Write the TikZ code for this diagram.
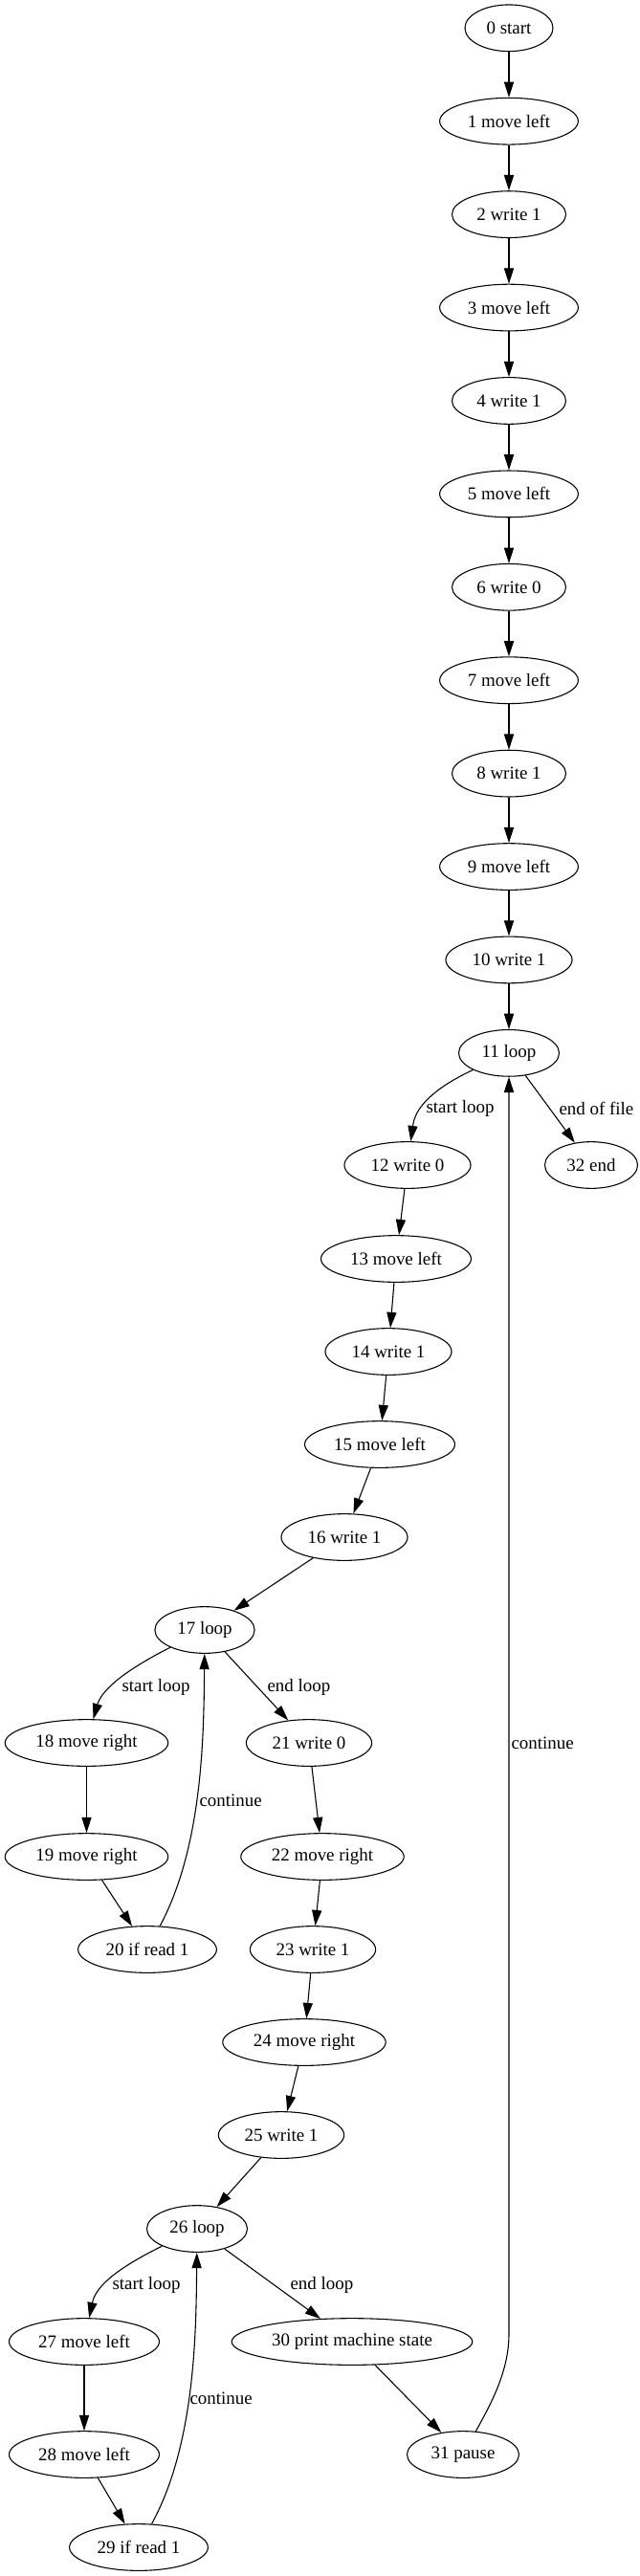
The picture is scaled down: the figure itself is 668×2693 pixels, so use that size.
\documentclass[tikz,border=0pt]{standalone}
\usepackage{fontspec}
\setmainfont{Liberation Serif}
\usetikzlibrary{arrows.meta}
\usetikzlibrary{positioning}
\usetikzlibrary{shapes.geometric}

\tikzset{
  stmt/.style={draw,ellipse,minimum height=36pt,inner sep=1pt,font=\fontsize{14pt}{16pt}\selectfont},
  lbl/.style={inner sep=0pt,anchor=west,font=\fontsize{14pt}{16pt}\selectfont},
  flow/.style={-{Triangle[length=12pt,width=7.5pt]}}
}

\begin{document}
\begin{tikzpicture}[x=0.7391pt,y=-0.7391pt,node distance=72pt,line width=0.8pt]
  \useasboundingbox (0,0) rectangle (668,2693);
  \node[stmt,minimum width=68pt] (0) at (532,29.3) {0 start};
  \node[stmt,minimum width=107pt,below of=0] (1) {1 move left};
  \node[stmt,minimum width=88pt,below of=1] (2) {2 write 1};
  \node[stmt,minimum width=107pt,below of=2] (3) {3 move left};
  \node[stmt,minimum width=88pt,below of=3] (4) {4 write 1};
  \node[stmt,minimum width=107pt,below of=4] (5) {5 move left};
  \node[stmt,minimum width=88pt,below of=5] (6) {6 write 0};
  \node[stmt,minimum width=107pt,below of=6] (7) {7 move left};
  \node[stmt,minimum width=88pt,below of=7] (8) {8 write 1};
  \node[stmt,minimum width=107pt,below of=8] (9) {9 move left};
  \node[stmt,minimum width=97.6pt,below of=9] (10) {10 write 1};
  \node[stmt,minimum width=77.6pt,below of=10] (11) {11 loop};
  \node[stmt,minimum width=97.6pt] (12) at (426,1218) {12 write 0};
  \node[stmt,minimum width=71.7pt] (32) at (618,1218) {32 end};
  \node[stmt,minimum width=116pt] (13) at (414,1316) {13 move left};
  \node[stmt,minimum width=97.6pt] (14) at (406,1413) {14 write 1};
  \node[stmt,minimum width=116pt] (15) at (397,1510) {15 move left};
  \node[stmt,minimum width=97.6pt] (16) at (360,1607) {16 write 1};
  \node[stmt,minimum width=77pt] (17) at (214,1704) {17 loop};
  \node[stmt,minimum width=126pt] (18) at (90.5,1822) {18 move right};
  \node[stmt,minimum width=97pt] (21) at (323,1822) {21 write 0};
  \node[stmt,minimum width=126pt] (19) at (90.5,1941) {19 move right};
  \node[stmt,minimum width=126pt] (22) at (337,1941) {22 move right};
  \node[stmt,minimum width=107pt] (20) at (154,2038) {20 if read 1};
  \node[stmt,minimum width=97pt] (23) at (327,2038) {23 write 1};
  \node[stmt,minimum width=126pt] (24) at (318,2135) {24 move right};
  \node[stmt,minimum width=97pt] (25) at (294,2232) {25 write 1};
  \node[stmt,minimum width=77.6pt] (26) at (206,2330) {26 loop};
  \node[stmt,minimum width=116pt] (27) at (88,2448) {27 move left};
  \node[stmt,minimum width=186pt] (30) at (368,2448) {30 print machine state};
  \node[stmt,minimum width=116pt] (28) at (88,2566) {28 move left};
  \node[stmt,minimum width=86.5pt] (31) at (484,2566) {31 pause};
  \node[stmt,minimum width=107pt] (29) at (145,2663) {29 if read 1};
  \coordinate (c31) at (532,2440);
  % edge labels
  \node[lbl] (l11s) at (445,1159) {start loop};
  \node[lbl] (l11e) at (584,1159) {end of file};
  \node[lbl] (l17s) at (127,1764) {start loop};
  \node[lbl] (l17e) at (279,1764) {end loop};
  \node[lbl] (l20c) at (208,1882) {continue};
  \node[lbl] (l31c) at (534,1822) {continue};
  \node[lbl] (l26s) at (117,2389) {start loop};
  \node[lbl] (l26e) at (303,2389) {end loop};
  \node[lbl] (l29c) at (198,2507) {continue};
  \draw[flow](0)--(1);
  \draw[flow](1)--(2);
  \draw[flow](2)--(3);
  \draw[flow](3)--(4);
  \draw[flow](4)--(5);
  \draw[flow](5)--(6);
  \draw[flow](6)--(7);
  \draw[flow](7)--(8);
  \draw[flow](8)--(9);
  \draw[flow](9)--(10);
  \draw[flow](10)--(11);
  \draw[flow](11) .. controls (440,1144) and (433,1166) .. (12);
  \draw[flow](11)--(32);
  \draw[flow](12)--(13);
  \draw[flow](13)--(14);
  \draw[flow](14)--(15);
  \draw[flow](15)--(16);
  \draw[flow](16)--(17);
  \draw[flow](17) .. controls (125,1749) and (105.5,1769) .. (18);
  \draw[flow](17)--(21);
  \draw[flow](18)--(19);
  \draw[flow](19)--(20);
  \draw[flow](20) .. controls (212,1930) and (213,1814) .. (17);
  \draw[flow](21)--(22);
  \draw[flow](22)--(23);
  \draw[flow](23)--(24);
  \draw[flow](24)--(25);
  \draw[flow](25)--(26);
  \draw[flow](26) .. controls (115,2375) and (99.5,2393) .. (27);
  \draw[flow](26)--(30);
  \draw[flow](27)--(28);
  \draw[flow](28)--(29);
  \draw[flow](29) .. controls (204,2556) and (205,2438) .. (26);
  \draw[flow](30)--(31);
  \draw[flow](31) .. controls (512,2515) and (532,2480) .. (c31)--(11);
\end{tikzpicture}
\end{document}
